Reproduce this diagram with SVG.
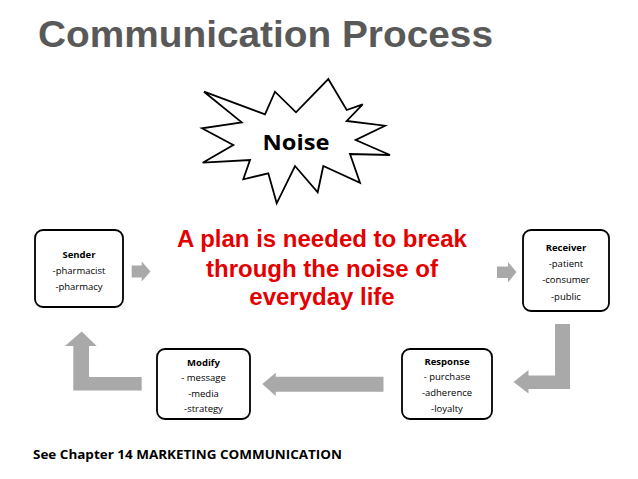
<svg xmlns="http://www.w3.org/2000/svg" width="638" height="479" viewBox="0 0 638 479">
<style>
.box{fill:#fff;stroke:#000;stroke-width:1.8}
.t{font-family:"Open Sans","Liberation Sans",sans-serif;font-size:9.5px;fill:#000;text-anchor:middle}
.b{font-weight:bold}
.arr{fill:#a9a9a9;stroke:none}
.red{font-family:"Liberation Sans",Arial,sans-serif;font-weight:bold;font-size:24px;fill:#e50000;text-anchor:middle}
</style>
<rect width="638" height="479" fill="#fff"/>
<text x="38" y="47" font-family="Liberation Sans,Arial,sans-serif" font-weight="bold" font-size="36" fill="#595959" textLength="455" lengthAdjust="spacingAndGlyphs">Communication Process</text>
<g id="noise">
<polygon class="box" points="328.3,79 346.7,110 362.7,104.3 346.7,121 385,125.7 355.7,140 390,155 350,154 360,182.7 323.3,166 317.7,192.3 295,166 276.7,203.3 268.3,173.3 243.3,179.3 250,160 202.7,162.7 233.3,145 202,128.3 241.7,122.3 204,91.7 265,114.3 275,91.7 296,112.3"/>
<text x="296" y="150" font-family="Open Sans,Liberation Sans,sans-serif" font-weight="bold" font-size="21" text-anchor="middle" textLength="67" lengthAdjust="spacingAndGlyphs">Noise</text>
</g>
<g id="plan">
<text class="red" x="322" y="247">A plan is needed to break</text>
<text class="red" x="322" y="277">through the noise of</text>
<text class="red" x="322" y="305">everyday life</text>
</g>
<g id="sender">
<rect class="box" x="35" y="230" width="88" height="77" rx="8"/>
<text class="t b" x="79" y="258">Sender</text>
<text class="t" x="79" y="274">-pharmacist</text>
<text class="t" x="79" y="290">-pharmacy</text>
</g>
<g id="receiver">
<rect class="box" x="523" y="230" width="86" height="81" rx="8"/>
<text class="t b" x="566" y="251">Receiver</text>
<text class="t" x="566" y="267">-patient</text>
<text class="t" x="566" y="283">-consumer</text>
<text class="t" x="566" y="300">-public</text>
</g>
<g id="modify">
<rect class="box" x="157" y="349" width="93" height="70" rx="8"/>
<text class="t b" x="203.5" y="366">Modify</text>
<text class="t" x="203.5" y="381">- message</text>
<text class="t" x="203.5" y="397">-media</text>
<text class="t" x="203.5" y="412">-strategy</text>
</g>
<g id="response">
<rect class="box" x="402" y="349" width="90" height="70" rx="8"/>
<text class="t b" x="447" y="365">Response</text>
<text class="t" x="447" y="380">- purchase</text>
<text class="t" x="447" y="396">-adherence</text>
<text class="t" x="447" y="412">-loyalty</text>
</g>
<g id="connectors">
<polygon class="arr" points="131.7,265.5 141.7,265.5 141.7,261.5 150.5,271.5 141.7,281.5 141.7,277.5 131.7,277.5"/>
<polygon class="arr" points="497,266.5 508,266.5 508,262 516.5,272 508,282.5 508,278 497,278"/>
<polygon class="arr" points="555,324 570,324 570,389 528.5,389 528.5,393.5 513.5,382 528.5,370 528.5,375.5 555,375.5"/>
<polygon class="arr" points="383.5,376.7 383.5,391.7 275.7,391.7 275.7,396 262.3,384 275.7,372.7 275.7,376.7"/>
<polygon class="arr" points="141.7,377 141.7,390.5 73.3,390.5 73.3,346 65,346 81.7,331.5 96.7,346 89,346 89,377"/>
</g>
<text x="33" y="459" font-family="Open Sans,Liberation Sans,sans-serif" font-weight="bold" font-size="12" fill="#000" textLength="309" lengthAdjust="spacingAndGlyphs">See Chapter 14 MARKETING COMMUNICATION</text>
</svg>
